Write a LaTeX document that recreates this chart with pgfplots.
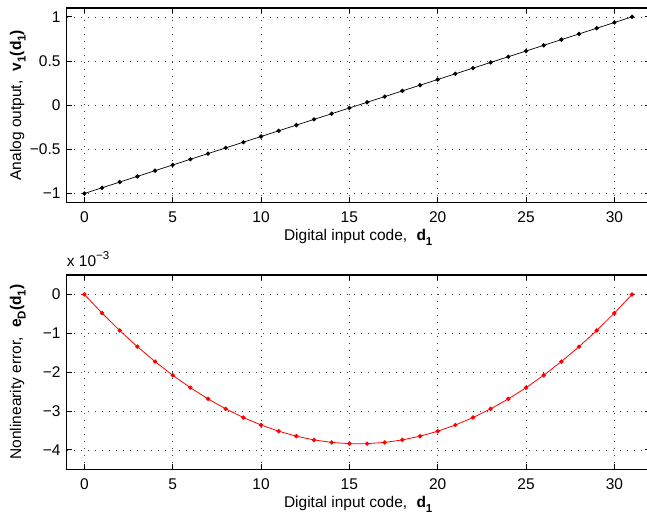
\documentclass[border=0pt]{standalone}
\usepackage{pgfplots}
\pgfplotsset{compat=1.18}
\usepackage{fontspec}
\setmainfont{Liberation Sans}

\newcommand{\mfont}{\fontsize{15.5}{18}\selectfont}
% MATLAB-like subscript: fairly large and set low
\newcommand{\msub}[1]{\raisebox{-0.55ex}{\fontsize{11.5}{13}\selectfont\bfseries #1}}

\pgfplotsset{
  matlab/.style={
    scale only axis,
    width=583pt, height=194.3pt,
    xmin=-1, xmax=32,
    xtick={0,5,...,30},
    /pgf/number format/assume math mode=true,
    axis line style={line width=1.2pt},
    major tick length=5pt,
    tick style={black, line width=0.8pt},
    grid=major,
    major grid style={black!75, line width=0.6pt, dash pattern=on 0.8pt off 6.2pt},
    xticklabel style={font=\mfont, inner sep=0pt, yshift=-9pt},
    yticklabel style={font=\mfont, inner sep=0pt, xshift=-6pt},
    xlabel style={font=\mfont, inner sep=0pt, at={(axis description cs:0.5,0)}, anchor=base, yshift=-38.5pt},
    ylabel style={font=\mfont, inner sep=0pt, at={(axis description cs:-0.078,0.5)}, anchor=base},
    xlabel={Digital input code,\hspace{0.6em}\textbf{d}\msub{1}},
  },
}

\begin{document}
\begin{tikzpicture}
% top: converter output
\begin{axis}[matlab, name=top, at={(0pt,0pt)}, anchor=north west,
    ymin=-1.1, ymax=1.1,
    ytick={-1,-0.5,0,0.5,1},
    yticklabels={−1,−0.5,0,0.5,1},
    ylabel={Analog output,\hspace{0.6em}\textbf{v}\msub{1}\textbf{(d}\msub{1}\textbf{)}},
  ]
  \addplot[black, line width=0.7pt, mark=*, mark size=1.8pt] coordinates {
    (0,-1) (1,-0.93548) (2,-0.87097) (3,-0.80645) (4,-0.74194) (5,-0.67742)
    (6,-0.61290) (7,-0.54839) (8,-0.48387) (9,-0.41935) (10,-0.35484)
    (11,-0.29032) (12,-0.22581) (13,-0.16129) (14,-0.09677) (15,-0.03226)
    (16,0.03226) (17,0.09677) (18,0.16129) (19,0.22581) (20,0.29032)
    (21,0.35484) (22,0.41935) (23,0.48387) (24,0.54839) (25,0.61290)
    (26,0.67742) (27,0.74194) (28,0.80645) (29,0.87097) (30,0.93548) (31,1)
  };
\end{axis}

% bottom: nonlinearity error, values in units of 1e-3
\begin{axis}[matlab, name=bot, at={(0pt,-267pt)}, anchor=north west,
    ymin=-4.5, ymax=0.5,
    ytick={-4,-3,-2,-1,0},
    yticklabels={−4,−3,−2,−1,0},
    ylabel={Nonlinearity error,\hspace{0.6em}\textbf{e}\msub{D}\textbf{(d}\msub{1}\textbf{)}},
  ]
  \addplot[red, line width=0.8pt, mark=*, mark size=1.8pt] coordinates {
    (0,0) (1,-0.480) (2,-0.928) (3,-1.344) (4,-1.728) (5,-2.080)
    (6,-2.400) (7,-2.688) (8,-2.944) (9,-3.168) (10,-3.360)
    (11,-3.520) (12,-3.648) (13,-3.744) (14,-3.808) (15,-3.840)
    (16,-3.840) (17,-3.808) (18,-3.744) (19,-3.648) (20,-3.520)
    (21,-3.360) (22,-3.168) (23,-2.944) (24,-2.688) (25,-2.400)
    (26,-2.080) (27,-1.728) (28,-1.344) (29,-0.928) (30,-0.480) (31,0)
  };
\end{axis}
\node[anchor=base west, inner sep=0pt, font=\mfont]
  at ([yshift=8.3pt]bot.north west) {x 10\raisebox{0.9ex}{\fontsize{11.5}{13}\selectfont −3}};

% crop like the reference image
\pgfresetboundingbox
\useasboundingbox (-66.7pt,8pt) rectangle (580.3pt,-506pt);
\end{tikzpicture}
\end{document}
